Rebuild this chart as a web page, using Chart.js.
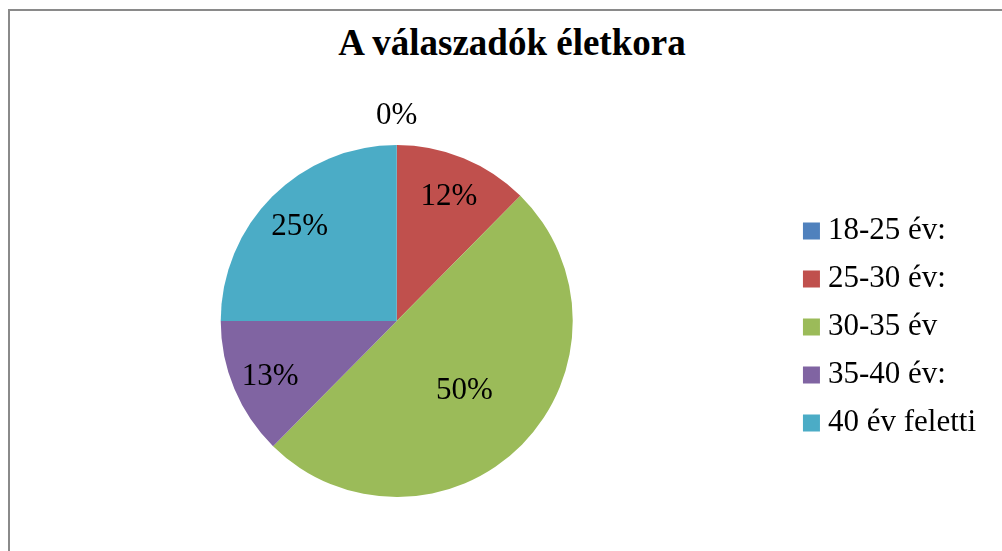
<!DOCTYPE html>
<html>
<head>
<meta charset="utf-8">
<script src="https://cdn.jsdelivr.net/npm/chart.js@4.4.1/dist/chart.umd.min.js"></script>
<style>
    body { margin: 0; background: #ffffff; overflow: hidden; }
    #frame {
        position: absolute; left: 8px; top: 9px; width: 1000px; height: 550px;
        border-top: 2px solid #8a8a8a; border-left: 2px solid #8a8a8a;
    }
    #title {
        position: absolute; left: 0; top: 24px; width: 1024px; text-align: center;
        font: bold 37px "Liberation Serif", "Times New Roman", serif; line-height: 37px; color: #000;
    }
    #chart { position: absolute; left: 0; top: 0; }
</style>
</head>
<body>
<div id="frame"></div>
<div id="title">A válaszadók életkora</div>
<canvas id="chart" width="1002" height="551"></canvas>
<script>
    const ageGroups = ["18-25 év:", "25-30 év:", "30-35 év", "35-40 év:", "40 év feletti"];
    const shares = [0, 12.4, 50, 12.6, 25];
    const colors = ["#4F81BD", "#C0504D", "#9BBB59", "#8064A2", "#4BACC6"];

    const serif = '"Liberation Serif", "Times New Roman", serif';

    // percentage labels on the slices (zero slice goes outside)
    const sliceLabels = {
        id: "sliceLabels",
        afterDatasetsDraw(chart) {
            const ctx = chart.ctx;
            const meta = chart.getDatasetMeta(0);
            ctx.save();
            ctx.font = "31px " + serif;
            ctx.fillStyle = "#000";
            ctx.textAlign = "center";
            ctx.textBaseline = "middle";
            meta.data.forEach((arc, i) => {
                const p = arc.getProps(["x", "y", "startAngle", "endAngle", "outerRadius"], true);
                const mid = (p.startAngle + p.endAngle) / 2;
                const value = shares[i];
                let dist;
                if (value === 0) dist = p.outerRadius + 32;
                else if (value >= 40) dist = p.outerRadius * 0.54;
                else dist = p.outerRadius * 0.78;
                ctx.fillText(Math.round(value) + "%", p.x + Math.cos(mid) * dist, p.y + Math.sin(mid) * dist + 3);
            });
            ctx.restore();
        }
    };

    new Chart(document.getElementById("chart"), {
        type: "pie",
        data: {
            labels: ageGroups,
            datasets: [{ data: shares, backgroundColor: colors, borderWidth: 0 }]
        },
        options: {
            responsive: false,
            animation: false,
            layout: { padding: { top: 145, bottom: 54, left: 0, right: 16 } },
            plugins: {
                tooltip: { enabled: false },
                legend: {
                    position: "right",
                    title: { display: true, text: "", padding: 0, font: { size: 10 } },
                    labels: {
                        usePointStyle: true,
                        pointStyle: "rect",
                        boxWidth: 2,
                        boxHeight: 17,
                        padding: 17,
                        color: "#000",
                        font: { family: serif, size: 31 }
                    }
                }
            }
        },
        plugins: [sliceLabels]
    });
</script>
</body>
</html>
